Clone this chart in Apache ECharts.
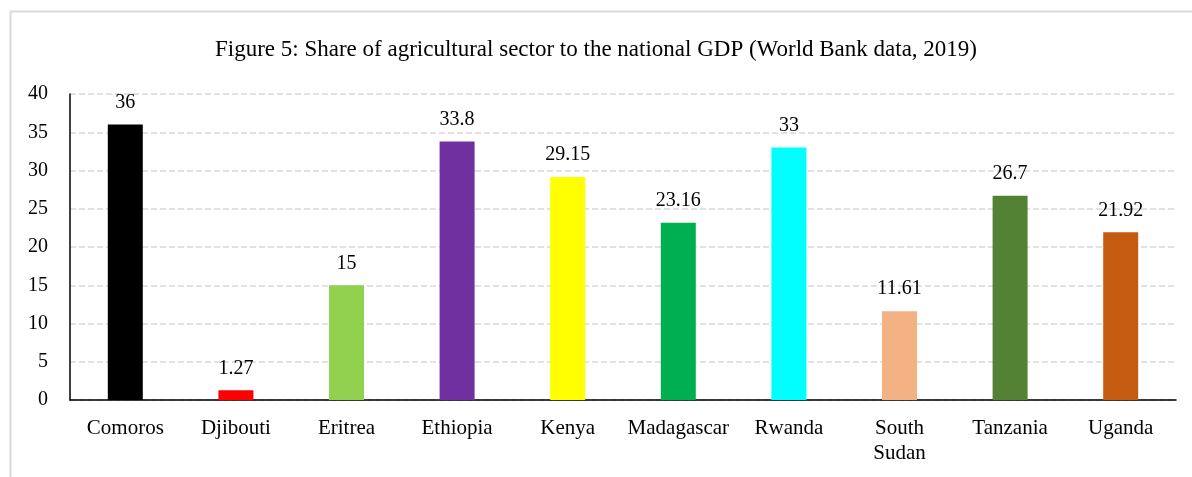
<!DOCTYPE html>
<html><head><meta charset="utf-8">
<script src="https://cdn.jsdelivr.net/npm/echarts@6/dist/echarts.min.js"></script>
<style>html,body{margin:0;padding:0;background:#fff}#c{width:1192px;height:477px}</style>
</head><body><div id="c"></div>
<script>
const categories = ["Comoros","Djibouti","Eritrea","Ethiopia","Kenya","Madagascar","Rwanda","South\nSudan","Tanzania","Uganda"];
const values = [36, 1.27, 15, 33.8, 29.15, 23.16, 33, 11.61, 26.7, 21.92];
const colors = ["#000000","#ff0000","#92d050","#7030a0","#ffff00","#00b050","#00ffff","#f4b183","#548235","#c55a11"];
const titleText = "Figure 5: Share of agricultural sector to the national GDP (World Bank data, 2019)";
const FONT = "Liberation Serif";
const chart = echarts.init(document.getElementById('c'));
chart.setOption({
  animation: false,
  textStyle: {fontFamily: FONT},
  title: {text: titleText, left: 'center', top: 33, textStyle: {fontFamily: FONT, fontSize: 23, fontWeight: 'normal', color: '#000'}},
  graphic: [{type: 'rect', shape: {x: 10.5, y: 11.5, width: 1200, height: 480}, style: {fill: 'none', stroke: '#d9d9d9', lineWidth: 2}, silent: true, z: -1}],
  grid: {left: 70, right: 16, top: 94, bottom: 77, containLabel: false},
  xAxis: {type: 'category', data: categories,
    axisLine: {lineStyle: {color: '#000', width: 1.5}}, axisTick: {show: false},
    axisLabel: {color: '#000', fontSize: 21, fontFamily: FONT, margin: 16, lineHeight: 25, interval: 0}},
  yAxis: {type: 'value', min: 0, max: 40, interval: 5,
    axisLine: {show: true, lineStyle: {color: '#000', width: 1.5}}, axisTick: {show: false},
    axisLabel: {color: '#000', fontSize: 20, fontFamily: FONT, margin: 22},
    splitLine: {lineStyle: {color: '#d9d9d9', type: [6, 3], width: 1.5}}},
  series: [{type: 'bar', barWidth: 35,
    data: values.map((v, i) => ({value: v, itemStyle: {color: colors[i]}})),
    label: {show: true, position: 'top', distance: 12, color: '#000', fontSize: 20, fontFamily: FONT}}]
});
</script></body></html>
